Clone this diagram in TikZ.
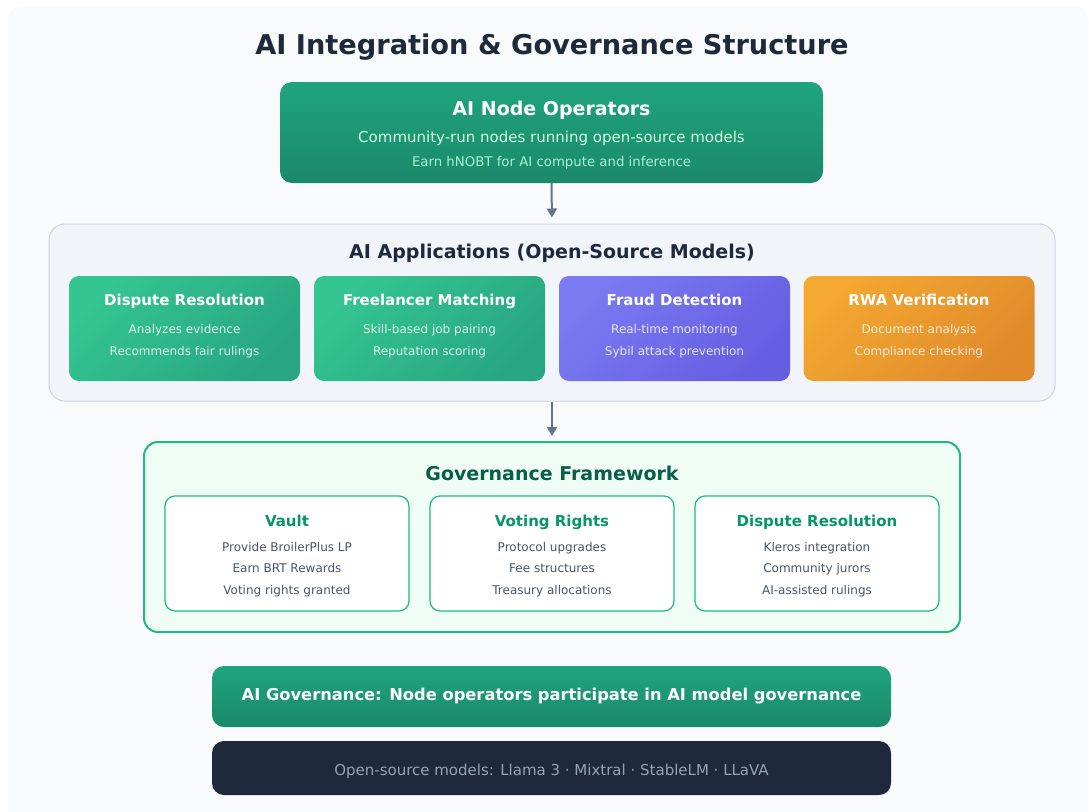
\documentclass[tikz,border=0pt]{standalone}
\usepackage{fontspec}
\setmainfont{DejaVu Sans}
\usetikzlibrary{arrows.meta,positioning}

\definecolor{pagebg}{HTML}{F8FAFC}
\definecolor{ink}{HTML}{1E293B}
\definecolor{opstop}{RGB}{31,165,123}
\definecolor{opsbot}{RGB}{27,137,106}
\definecolor{mint}{HTML}{D1FAE5}
\definecolor{mintdim}{HTML}{A7F3D0}
\definecolor{appsfill}{HTML}{F1F5F9}
\definecolor{appsline}{HTML}{CBD5E1}
\definecolor{greenA}{RGB}{52,197,146}
\definecolor{greenB}{RGB}{40,166,128}
\definecolor{violetA}{RGB}{122,122,241}
\definecolor{violetB}{RGB}{102,94,226}
\definecolor{amberA}{RGB}{243,168,48}
\definecolor{amberB}{RGB}{224,138,44}
\definecolor{govfill}{HTML}{F0FDF4}
\definecolor{govline}{RGB}{32,185,130}
\definecolor{govtitle}{HTML}{065F46}
\definecolor{govhead}{HTML}{059669}
\definecolor{govtext}{HTML}{475569}
\definecolor{arrowgray}{HTML}{64748B}
\definecolor{modeltext}{HTML}{94A3B8}

\newcommand{\fsz}[1]{\fontsize{#1}{#1}\selectfont}

\begin{document}
\begin{tikzpicture}[x=1pt,y=-1pt,
    box/.style={rectangle,inner sep=0pt,rounded corners=12pt},
    card/.style={box,rounded corners=10pt,minimum width=231pt,minimum height=105pt,shading angle=45},
    govcard/.style={box,rounded corners=10pt,fill=white,draw=govline,line width=1.2pt,
      minimum width=244pt,minimum height=115pt},
    txt/.style={anchor=base,inner sep=0pt},
    head/.style={txt,font=\bfseries\fsz{19}},
    cardhead/.style={txt,font=\bfseries\fsz{15},text=white},
    cardline/.style={txt,font=\fsz{12},text=white,text opacity=0.82},
    govline/.style={txt,font=\fsz{12},text=govtext},
    flow/.style={draw=arrowgray,line width=2pt,-{Triangle[width=10pt,length=9pt]}}
  ]
  \useasboundingbox (0,0) rectangle (1089,811);
  \fill[white] (0,0) rectangle (1089,811);
  \fill[pagebg,rounded corners=12pt] (8,7) rectangle (1088,840);

  % Title
  \node[txt,font=\bfseries\fsz{27.2},text=ink] (title) at (552,54)
    {AI Integration \& Governance Structure};

  % Operators
  \node[box,minimum width=543pt,minimum height=101pt,top color=opstop,bottom color=opsbot]
    (ops) at (551.5,132.5) {};
  \node[head,font=\bfseries\fsz{19},text=white] (opstitle) at (551.5,115) {AI Node Operators};
  \node[txt,font=\fsz{15},text=mint] (opsline1) at (551.5,142)
    {Community-run nodes running open-source models};
  \node[txt,font=\fsz{13.3},text=mintdim] (opsline2) at (551.5,166)
    {Earn hNOBT for AI compute and inference};

  % Applications
  \node[box,rounded corners=16pt,fill=appsfill,draw=appsline,line width=1pt,
    minimum width=1006pt,minimum height=177pt] (apps) at (552,312.5) {};
  \node[head,text=ink] (appstitle) at (552,258) {AI Applications (Open-Source Models)};

  \node[card,top color=greenA,bottom color=greenB,shading angle=45] (dispute) at (184.5,328.5) {};
  \node[cardhead] at (184.5,305.5) {Dispute Resolution};
  \node[cardline] at (184.5,333) {Analyzes evidence};
  \node[cardline] at (184.5,355) {Recommends fair rulings};

  \node[card,top color=greenA,bottom color=greenB,shading angle=45] (freelance) at (429.5,328.5) {};
  \node[cardhead] at (429.5,305.5) {Freelancer Matching};
  \node[cardline] at (429.5,333) {Skill-based job pairing};
  \node[cardline] at (429.5,355) {Reputation scoring};

  \node[card,top color=violetA,bottom color=violetB,shading angle=45] (fraud) at (674.5,328.5) {};
  \node[cardhead] at (674.5,305.5) {Fraud Detection};
  \node[cardline] at (674.5,333) {Real-time monitoring};
  \node[cardline] at (674.5,355) {Sybil attack prevention};

  \node[card,top color=amberA,bottom color=amberB,shading angle=45] (rwa) at (919,328.5) {};
  \node[cardhead] at (919,305.5) {RWA Verification};
  \node[cardline] at (919,333) {Document analysis};
  \node[cardline] at (919,355) {Compliance checking};

  % Governance
  \node[box,rounded corners=14pt,fill=govfill,draw=govline,line width=2pt,
    minimum width=816pt,minimum height=190pt] (gov) at (552,537) {};
  \node[head,text=govtitle] (govtitle) at (552,480) {Governance Framework};

  \node[govcard] (vault) at (287,553.5) {};
  \node[cardhead,text=govhead] at (287,526) {Vault};
  \node[govline] at (287,551) {Provide BroilerPlus LP};
  \node[govline] at (287,572) {Earn BRT Rewards};
  \node[govline] at (287,594) {Voting rights granted};

  \node[govcard] (voting) at (552,553.5) {};
  \node[cardhead,text=govhead] at (552,526) {Voting Rights};
  \node[govline] at (552,551) {Protocol upgrades};
  \node[govline] at (552,572) {Fee structures};
  \node[govline] at (552,594) {Treasury allocations};

  \node[govcard] (kleros) at (817,553.5) {};
  \node[cardhead,text=govhead] at (817,526) {Dispute Resolution};
  \node[govline] at (817,551) {Kleros integration};
  \node[govline] at (817,572) {Community jurors};
  \node[govline] at (817,594) {AI-assisted rulings};

  % Bottom bars
  \node[box,minimum width=679pt,minimum height=61pt,top color=opstop,bottom color=opsbot]
    (govbar) at (551.5,696.5) {};
  \node[txt,font=\bfseries\fsz{16.3},text=white] at (551.5,700)
    {AI Governance: Node operators participate in AI model governance};
  \node[box,minimum width=679pt,minimum height=54pt,fill=ink] (modelbar) at (551.5,768) {};
  \node[txt,font=\fsz{15},text=modeltext] at (551.5,775)
    {Open-source models: Llama 3 · Mixtral · StableLM · LLaVA};

  % Flow
  \draw[flow,shorten >=6pt] (ops.south) -- (apps.north);
  \draw[flow,shorten >=5pt] (apps.south) -- (gov.north);
\end{tikzpicture}
\end{document}
